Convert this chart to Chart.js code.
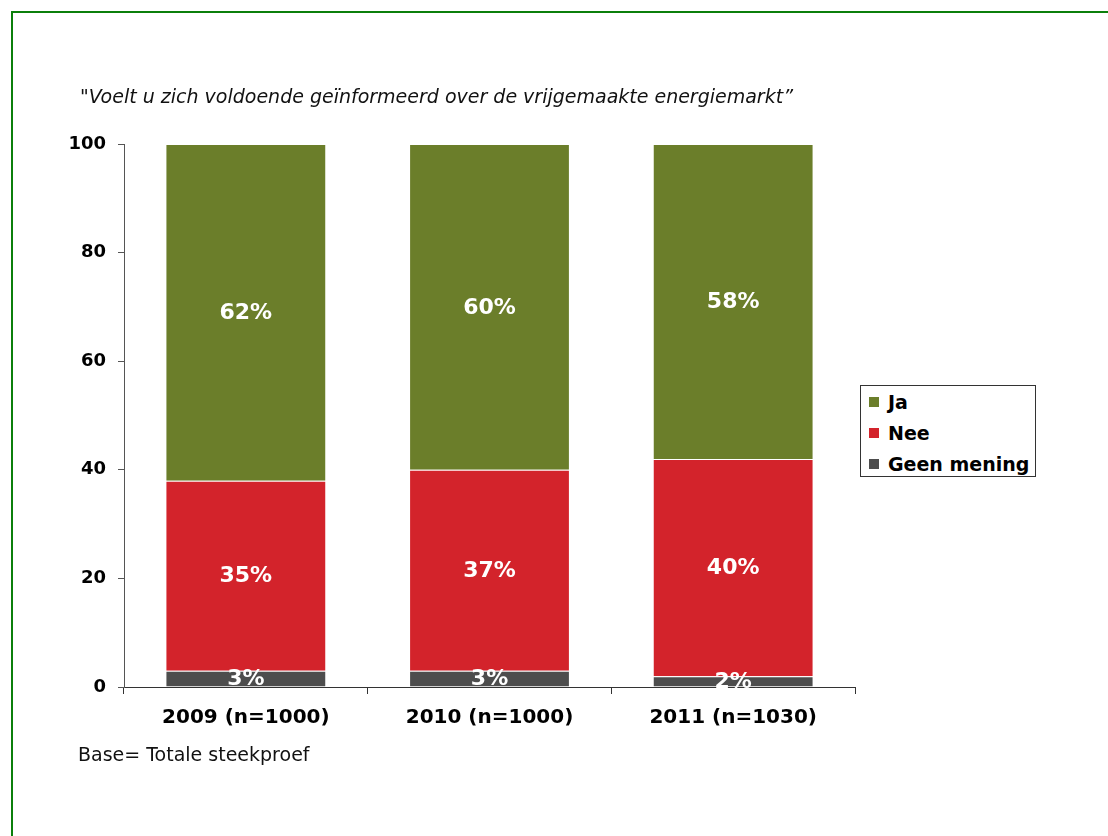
<!DOCTYPE html>
<html>
<head>
<meta charset="utf-8">
<script src="https://cdn.jsdelivr.net/npm/chart.js@4.4.1/dist/chart.umd.min.js"></script>
<style>
  html, body { margin: 0; padding: 0; background: #fff; overflow: hidden; }
  body { width: 1108px; height: 836px; position: relative; font-family: "DejaVu Sans", Verdana, sans-serif; }
  #frame { position: absolute; left: 11px; top: 11px; width: 1200px; height: 900px; border: 2px solid #0b7f0b; }
  #chart { position: absolute; left: 0; top: 0; }
  #title { position: absolute; left: 80px; top: 85px; font-size: 19px; font-style: italic; color: #111; white-space: nowrap; }
  #base { position: absolute; left: 78px; top: 743px; font-size: 19px; color: #111; white-space: nowrap; }
  #legend { position: absolute; left: 860px; top: 385px; width: 174px; height: 90px; border: 1px solid #333; background: #fff; }
  #legend div { position: absolute; left: 8px; font-size: 19px; font-weight: bold; color: #000; line-height: 22px; white-space: nowrap; }
  #legend span { display: inline-block; width: 10px; height: 10px; margin-right: 9px; vertical-align: 2px; }
</style>
</head>
<body>
<div id="frame"></div>
<canvas id="chart" width="1108" height="836"></canvas>
<div id="title">"Voelt u zich voldoende geïnformeerd over de vrijgemaakte energiemarkt”</div>
<div id="base">Base= Totale steekproef</div>
<div id="legend"></div>
<script>
const categories = ['2009 (n=1000)', '2010 (n=1000)', '2011 (n=1030)'];
const geenMening = [3, 3, 2];
const nee = [35, 37, 40];
const ja = [62, 60, 58];
const yTicks = [0, 20, 40, 60, 80, 100];

const FONT = '"DejaVu Sans", Verdana, sans-serif';

// white percentage labels in the middle of each segment
const segmentLabels = {
    id: 'segmentLabels',
    afterDatasetsDraw(chart) {
        const ctx = chart.ctx;
        ctx.save();
        ctx.font = 'bold 22px ' + FONT;
        ctx.fillStyle = '#fff';
        ctx.textAlign = 'center';
        ctx.textBaseline = 'middle';
        chart.data.datasets.forEach((ds, i) => {
            chart.getDatasetMeta(i).data.forEach((bar, j) => {
                const p = bar.getProps(['x', 'y', 'base'], true);
                ctx.fillText(ds.data[j] + '%', p.x, (p.y + p.base) / 2 + 1);
            });
        });
        ctx.restore();
    }
};

const chart = new Chart(document.getElementById('chart').getContext('2d'), {
    type: 'bar',
    data: {
        labels: categories,
        datasets: [
            { label: 'Geen mening', data: geenMening, backgroundColor: '#4d4d4d' },
            { label: 'Nee', data: nee, backgroundColor: '#d3232b' },
            { label: 'Ja', data: ja, backgroundColor: '#6b7e2a' }
        ].map(d => Object.assign(d, {
            borderColor: 'rgba(255,255,255,0.85)',
            borderWidth: 1,
            categoryPercentage: 0.66,
            barPercentage: 1
        }))
    },
    options: {
        responsive: false,
        animation: false,
        layout: { padding: { top: 144, right: 253, bottom: 0, left: 0 } },
        plugins: { legend: { display: false }, tooltip: { enabled: false } },
        scales: {
            x: {
                stacked: true,
                afterFit(scale) { scale.height = 149; },
                border: { display: true, color: '#333', width: 1 },
                grid: { offset: true, drawOnChartArea: false, drawTicks: true, tickLength: 7, color: '#333' },
                ticks: { color: '#000', padding: 12, font: { family: FONT, size: 20, weight: 'bold' } }
            },
            y: {
                stacked: true,
                min: 0,
                max: 100,
                afterFit(scale) { scale.width = 124; },
                afterBuildTicks(scale) { scale.ticks = yTicks.map(v => ({ value: v })); },
                border: { display: true, color: '#555', width: 1 },
                grid: { drawOnChartArea: false, drawTicks: true, tickLength: 6, color: '#555' },
                ticks: { color: '#000', padding: 12, font: { family: FONT, size: 18, weight: 'bold' } }
            }
        }
    },
    plugins: [segmentLabels]
});

// legend box, top series first
const legend = document.getElementById('legend');
chart.data.datasets.slice().reverse().forEach((ds, i) => {
    const row = document.createElement('div');
    row.style.top = (5 + i * 31) + 'px';
    row.innerHTML = '<span style="background:' + ds.backgroundColor + '"></span>' + ds.label;
    legend.appendChild(row);
});
</script>
</body>
</html>
